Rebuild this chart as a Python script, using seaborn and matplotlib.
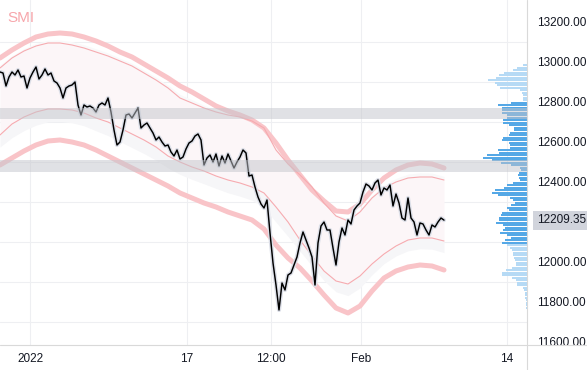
import matplotlib.pyplot as plt
import matplotlib.transforms as mtransforms
from matplotlib.lines import Line2D
import numpy as np
import seaborn as sns

# SMI closes, evenly sampled from the last days of 2021 to 8 Feb 2022
price = [12950, 12945, 12880, 12925, 12950, 12935, 12960, 12925, 12930, 12870,
         12920, 12950, 12975, 12915, 12935, 12965, 12935, 12945, 12905, 12895,
         12870, 12820, 12870, 12880, 12885, 12900, 12785, 12735, 12785, 12775,
         12780, 12770, 12750, 12785, 12795, 12785, 12820, 12750, 12660, 12585,
         12600, 12660, 12735, 12740, 12720, 12745, 12770, 12670, 12685, 12695,
         12670, 12645, 12610, 12625, 12600, 12580, 12585, 12550, 12530, 12560,
         12515, 12525, 12565, 12595, 12605, 12630, 12640, 12610, 12485, 12520,
         12535, 12500, 12540, 12480, 12530, 12495, 12540, 12505, 12470, 12500,
         12525, 12560, 12545, 12430, 12435, 12375, 12325, 12290, 12270, 12310,
         12145, 11995, 11885, 11760, 11895, 11860, 11935, 11945, 11985, 12025,
         12095, 12150, 12110, 12070, 12025, 11885, 12095, 12180, 12200, 12160,
         12160, 12070, 11985, 12100, 12170, 12135, 12210, 12190, 12260, 12280,
         12295, 12350, 12390, 12380, 12360, 12395, 12410, 12335, 12370, 12360,
         12385, 12280, 12340, 12295, 12220, 12210, 12320, 12220, 12200, 12135,
         12195, 12190, 12160, 12135, 12185, 12175, 12200, 12220, 12209.35]
last_price = 12209.35

# envelope, one value every 4th price sample
upper_outer = [13020, 13060, 13095, 13125, 13140, 13145, 13140, 13125, 13105, 13080,
               13050, 13025, 12990, 12955, 12920, 12880, 12850, 12815, 12780, 12755,
               12735, 12710, 12670, 12595, 12510, 12435, 12360, 12305, 12255, 12250,
               12290, 12360, 12420, 12460, 12485, 12495, 12490, 12470]
upper_inner = [12970, 13020, 13055, 13080, 13095, 13095, 13085, 13070, 13050, 13030,
               13005, 12980, 12945, 12910, 12870, 12820, 12795, 12770, 12750, 12735,
               12725, 12705, 12670, 12560, 12490, 12435, 12375, 12295, 12230, 12205,
               12250, 12320, 12370, 12400, 12420, 12425, 12425, 12410]
lower_inner = [12635, 12690, 12725, 12750, 12765, 12765, 12760, 12745, 12720, 12700,
               12670, 12640, 12610, 12575, 12530, 12500, 12475, 12455, 12430, 12410,
               12395, 12375, 12345, 12275, 12200, 12110, 12030, 11955, 11905, 11890,
               11930, 11990, 12040, 12080, 12110, 12120, 12120, 12105]
lower_outer = [12485, 12520, 12555, 12585, 12605, 12610, 12600, 12585, 12560, 12530,
               12500, 12470, 12440, 12410, 12380, 12345, 12320, 12295, 12275, 12250,
               12230, 12210, 12165, 12085, 12020, 11970, 11905, 11835, 11770, 11745,
               11780, 11855, 11920, 11955, 11975, 11985, 11980, 11960]

# support / resistance zones
zones = [(12715, 12770), (12450, 12510)]

# visible range volume profile, top bin first
vp_top = 12985
vp_step = 12.5
vp_volume = [4, 10, 14, 23, 28, 31, 39, 32, 30, 27,
             7, 5, 4, 4, 4, 16, 29, 25, 25, 25,
             20, 20, 24, 24, 18, 13, 13, 17, 18, 24,
             25, 18, 17, 17, 29, 28, 40, 44, 35, 26,
             16, 7, 6, 8, 9, 8, 7, 14, 20, 23,
             32, 35, 29, 17, 14, 12, 16, 20, 18, 25,
             26, 28, 28, 31, 24, 22, 24, 27, 20, 16,
             22, 25, 20, 17, 15, 14, 14, 13, 12, 11,
             11, 15, 21, 25, 25, 15, 11, 10, 10, 4,
             3, 2, 2, 2, 1.5, 1.5, 1, 1]
value_area = (12095, 12800)

tick_pos = [10, 62.3, 90.3, 120.3, 169]
tick_labels = ["2022", "17", "12:00", "Feb", "14"]
price_ticks = [11600, 11800, 12000, 12400, 12600, 12800, 13000, 13200]
grid_ticks = np.arange(11700, 13201, 200)

sns.set_theme(style="white")
plt.rcParams['font.family'] = ['Liberation Sans', 'DejaVu Sans']

W, H = 587, 370
fig = plt.figure(figsize=(W / 100, H / 100), dpi=100)
ax = fig.add_axes([0, 25 / H, 527 / W, 345 / H])

x = np.arange(len(price))
bx = np.arange(len(upper_outer)) * 4
uo, ui = np.array(upper_outer), np.array(upper_inner)
li, lo = np.array(lower_inner), np.array(lower_outer)

ax.fill_between(bx, ui, li, color='#fcf6f8', lw=0, zorder=1)
ax.fill_between(bx, li, li + 0.4 * (lo - li), color='#f6f6f8', lw=0, zorder=1)
ax.fill_between(bx, ui, ui + 0.3 * (uo - ui), color='#f9f9fa', lw=0, zorder=1)

for band in (upper_outer, lower_outer):
    sns.lineplot(x=bx, y=band, ax=ax, color='#f9c4c8', linewidth=3.6, zorder=2)
for band in (upper_inner, lower_inner):
    sns.lineplot(x=bx, y=band, ax=ax, color='#f6abb0', linewidth=0.8, zorder=2)

sns.lineplot(x=x, y=price, ax=ax, color='#dcdfe8', linewidth=3.0, zorder=3)
sns.lineplot(x=x, y=price, ax=ax, color='black', linewidth=1.05, zorder=4)

ax.set_xlim(0, 527 / 3)
ax.set_ylim(11585, 13310)
for s in ax.spines.values():
    s.set_visible(False)

ax.set_xticks(tick_pos, labels=tick_labels)
ax.yaxis.tick_right()
ax.set_yticks(price_ticks, labels=[f"{v:.2f}" for v in price_ticks])
ax.set_yticks(grid_ticks, minor=True)
ax.tick_params(axis='both', which='both', length=0, labelsize=8.5, labelcolor='#131722')
ax.tick_params(axis='y', pad=7)
ax.tick_params(axis='x', pad=6)
ax.grid(axis='x', which='major', color='#eeeff2', lw=0.8)
ax.grid(axis='y', which='minor', color='#eeeff2', lw=0.8)
ax.grid(axis='y', which='major', visible=False)
ax.set_axisbelow(True)

clip = mtransforms.TransformedBbox(mtransforms.Bbox([[1, 0], [1.2, 1]]), ax.transAxes)
for lbl in ax.get_yticklabels():
    lbl.set_clip_box(clip)
    lbl.set_clip_on(True)

# volume profile on a twin x axis, growing from the right edge
vax = ax.twiny()
levels = vp_top - vp_step * np.arange(len(vp_volume))
colors = ['#55a8e6' if value_area[0] <= lv <= value_area[1] else '#b6daf5' for lv in levels]
vax.barh(levels, vp_volume, height=10, color=colors, lw=0, zorder=2)
vax.set_xlim(max(vp_volume) * 12, 0)
for lo_z, hi_z in zones:
    vax.axhspan(lo_z, hi_z, color='#c3c5cc', alpha=0.5, lw=0, zorder=3)
vax.set_axis_off()

ax.text(7 / 527, 1 - 18 / 345, "SMI", transform=ax.transAxes, color='#f7a6ab',
        fontsize=11, va='center', ha='left')

trans = mtransforms.blended_transform_factory(ax.transAxes, ax.transData)
ax.text(1 + 10 / 527, last_price, f"{last_price:.2f}", transform=trans, fontsize=8.5,
        color='#131722', va='center', ha='left',
        bbox=dict(boxstyle='square,pad=0.3', fc='#d1d4dc', ec='none'))

fig.add_artist(Line2D([0, 1], [25 / H, 25 / H], color='#d9d9d9', lw=0.8))
fig.add_artist(Line2D([527 / W, 527 / W], [0, 1], color='#d9d9d9', lw=0.8))

fig.savefig("out.png", dpi=100, facecolor='white')
